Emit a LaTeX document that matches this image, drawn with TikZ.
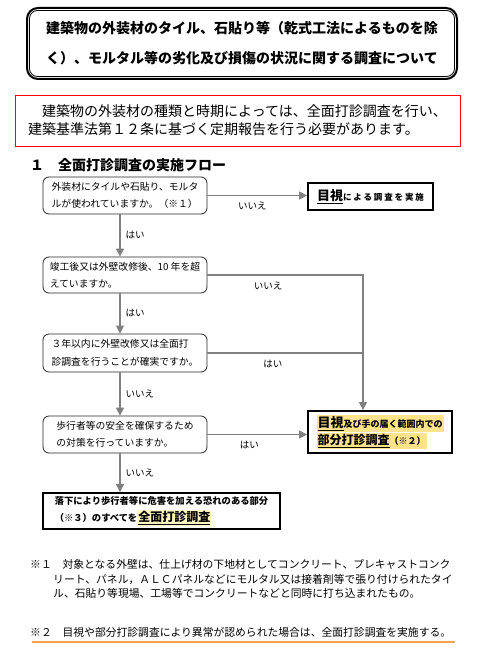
\documentclass[tikz,border=0pt]{standalone}
\usepackage{fontspec}
\setmainfont{Noto Sans CJK JP}
\usepackage{xcolor}
\usepackage{tikz}
\usetikzlibrary{arrows.meta,positioning}
\definecolor{arrgray}{HTML}{808080}
\definecolor{hiA}{HTML}{FFE38C}
\definecolor{hiB}{HTML}{FFF6C4}
\definecolor{noteorange}{HTML}{F7A24F}
\setlength{\fboxsep}{1pt}
\newcommand{\keyword}[2]{{\fontsize{#1}{#1}\selectfont\bfseries\underline{#2}}}
\newcommand{\smallbold}[1]{{\fontsize{9}{10}\selectfont\bfseries #1}}

\begin{document}
\begin{tikzpicture}[x=1pt, y=-1pt, every node/.style={inner sep=0pt},
  qbox/.style={draw=black!85, line width=0.8pt, rounded corners=6pt, minimum width=164pt,
    align=left, font=\fontsize{9.8}{17.5}\selectfont},
  resbox/.style={draw=black, line width=1.8pt, align=left},
  flow/.style={draw=arrgray, line width=1.4pt, -{Triangle[length=8pt,width=8pt]}},
  flowline/.style={draw=arrgray, line width=1.4pt},
  lbl/.style={font=\fontsize{9.5}{11}\selectfont, inner sep=2pt}]
  \useasboundingbox (0,0) rectangle (498,650);

  % title and notice
  \node[draw, line width=2pt, rounded corners=11pt, minimum width=430pt, minimum height=71pt,
    align=left, font=\fontsize{14}{30}\selectfont\bfseries] (title) at (242,43.5)
    {建築物の外装材のタイル、石貼り等（乾式工法によるものを除\\く）、モルタル等の劣化及び損傷の状況に関する調査について};
  \draw[line width=0.8pt, rounded corners=8pt] ([shift={(3.5pt,-3.5pt)}]title.north west)
    rectangle ([shift={(-3.5pt,3.5pt)}]title.south east);
  \node[draw=red, line width=0.9pt, minimum width=445pt, minimum height=51pt, align=left,
    font=\fontsize{14}{18}\selectfont] (notice) at (237.5,120.5)
    {　建築物の外装材の種類と時期によっては、全面打診調査を行い、\\建築基準法第１２条に基づく定期報告を行う必要があります。};
  \node[anchor=west, font=\fontsize{14}{16}\selectfont\bfseries] (head) at (30,165) {１　全面打診調査の実施フロー};

  % questions
  \node[qbox, minimum height=37pt] (q1) at (125,195.5) {外装材にタイルや石貼り、モルタ\\ルが使われていますか。（※１）};
  \node[qbox, minimum height=36pt] (q2) at (125,275) {竣工後又は外壁改修後、10 年を超\\えていますか。};
  \node[qbox, minimum height=38pt] (q3) at (125,353) {３年以内に外壁改修又は全面打\\診調査を行うことが確実ですか。};
  \node[qbox, minimum height=37pt] (q4) at (125,434.5) {歩行者等の安全を確保するため\\の対策を行っていますか。};

  % results
  \node[resbox, minimum width=125pt, minimum height=27pt] (mokushi) at (370.5,196.5)
    {\keyword{13}{目視}{\fontsize{8.5}{10}\selectfont\bfseries\addfontfeatures{LetterSpace=22}による調査を実施}};
  \node[resbox, minimum width=144pt, minimum height=42pt, font=\fontsize{9}{17}\selectfont] (bubun) at (380,432)
    {\colorbox{hiA}{\keyword{13}{目視}\smallbold{及び手の届く範囲内での}}\\
     \colorbox{hiA}{\keyword{12}{部分打診調査}\smallbold{（※２）}}};
  \node[resbox, minimum width=237pt, minimum height=36pt, font=\fontsize{9.3}{17}\selectfont\bfseries] (zenmen) at (161.5,511)
    {落下により歩行者等に危害を加える恐れのある部分\\
     （※３）のすべてを\colorbox{hiB}{\keyword{12}{全面打診調査}}};

  % connectors
  \coordinate (bend) at (363,275);
  \draw[flow] (q1.east) -- (q1.east -| mokushi.west) node[lbl, pos=0.45, below=4pt] {いいえ};
  \draw[flow] ([xshift=-5pt]q1.south) -- ([xshift=-5pt]q2.north) node[lbl, midway, right=3pt] {はい};
  \draw[flow] (q2.east) -- (bend) node[lbl, pos=0.39, below=4pt] {いいえ} -- (bend |- bubun.north);
  \draw[flow] ([xshift=-5pt]q2.south) -- ([xshift=-5pt]q3.north) node[lbl, midway, right=3pt] {はい};
  \draw[flowline] (q3.east) -- (q3.east -| bend) node[lbl, pos=0.42, below=4pt] {はい};
  \draw[flow] ([xshift=-5pt]q3.south) -- ([xshift=-5pt]q4.north) node[lbl, midway, right=3pt] {いいえ};
  \draw[flow] (q4.east) -- (q4.east -| bubun.west) node[lbl, pos=0.42, below=4pt] {はい};
  \draw[flow] ([xshift=-5pt]q4.south) -- ([xshift=-5pt]q4.south |- zenmen.north) node[lbl, midway, right=3pt] {いいえ};

  % notes
  \node[anchor=west, align=left, font=\fontsize{10.8}{14.2}\selectfont] (note1) at (30,579)
    {※１　対象となる外壁は、仕上げ材の下地材としてコンクリート、プレキャストコンク\\
     \hspace*{23pt}リート、パネル，ＡＬＣパネルなどにモルタル又は接着剤等で張り付けられたタイ\\
     \hspace*{23pt}ル、石貼り等現場、工場等でコンクリートなどと同時に打ち込まれたもの。};
  \node[anchor=west, font=\fontsize{10.8}{13}\selectfont] (note2) at (30,632)
    {※２　目視や部分打診調査により異常が認められた場合は、全面打診調査を実施する。};
  \draw[noteorange, line width=1.5pt] (32,642) -- (455,642);
\end{tikzpicture}
\end{document}
